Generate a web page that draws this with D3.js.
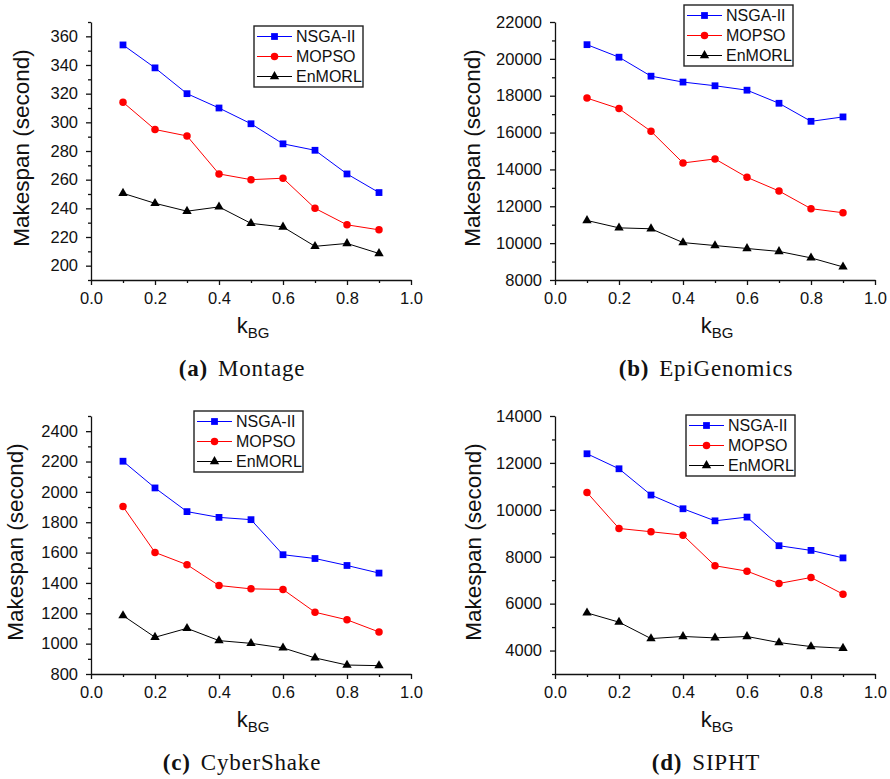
<!DOCTYPE html>
<html lang="en">
<head>
    <meta charset="UTF-8">
    <title>Makespan vs kBG</title>
    <style>
        body {
            margin: 0;
            padding: 0;
            background: #fff;
        }
        svg text {
            font-family: 'Liberation Sans', Arial, sans-serif;
            fill: #111;
        }
        .axis path, .axis line {
            stroke: #111;
            stroke-width: 1.3px;
        }
        .axis text {
            font-size: 16.5px;
        }
        text.caption {
            font-family: 'Liberation Serif', 'Times New Roman', serif;
        }
    </style>
</head>
<body>
    <div id="chart"></div>

    <script src="https://d3js.org/d3.v7.min.js"></script>
    <script>
        // x values and labels
        const kBG = [0.1, 0.2, 0.3, 0.4, 0.5, 0.6, 0.7, 0.8, 0.9];
        const xTicks = [0, 0.2, 0.4, 0.6, 0.8, 1.0];
        const xMinorTicks = [0.1, 0.3, 0.5, 0.7, 0.9];
        const seriesNames = ['NSGA-II', 'MOPSO', 'EnMORL'];

        // (a) Montage
        const montageNSGA = [354, 338, 320, 310, 299, 285, 280.5, 264, 251];
        const montageMOPSO = [314, 295, 290.5, 264, 260, 261, 240, 228.5, 225];
        const montageEnMORL = [250.5, 243.5, 238, 241, 229.5, 227, 213.5, 215.5, 208.5];
        const montageYTicks = [200, 220, 240, 260, 280, 300, 320, 340, 360];

        // (b) EpiGenomics
        const epiNSGA = [20770, 20090, 19060, 18740, 18540, 18300, 17590, 16610, 16850];
        const epiMOPSO = [17870, 17300, 16070, 14350, 14570, 13570, 12830, 11870, 11650];
        const epiEnMORL = [11230, 10830, 10780, 10030, 9870, 9710, 9550, 9200, 8710];
        const epiYTicks = [8000, 10000, 12000, 14000, 16000, 18000, 20000, 22000];

        // (c) CyberShake
        const cyberNSGA = [2202, 2026, 1870, 1832, 1817, 1586, 1561, 1515, 1465];
        const cyberMOPSO = [1903, 1601, 1520, 1383, 1361, 1357, 1207, 1157, 1077];
        const cyberEnMORL = [1185, 1042, 1101, 1020, 1002, 972, 906, 859, 855];
        const cyberYTicks = [800, 1000, 1200, 1400, 1600, 1800, 2000, 2200, 2400];

        // (d) SIPHT
        const siphtNSGA = [12390, 11750, 10630, 10045, 9530, 9690, 8470, 8270, 7950];
        const siphtMOPSO = [10740, 9205, 9065, 8920, 7615, 7385, 6860, 7115, 6405];
        const siphtEnMORL = [5605, 5210, 4510, 4600, 4540, 4600, 4340, 4170, 4100];
        const siphtYTicks = [4000, 6000, 8000, 10000, 12000, 14000];

        const panels = [
            { letter: '(a)', name: 'Montage', series: [montageNSGA, montageMOPSO, montageEnMORL],
              yDomain: [190, 370], yTicks: montageYTicks, minorStep: 10,
              left: 91, top: 22, legend: [254, 26], titleX: 21 },
            { letter: '(b)', name: 'EpiGenomics', series: [epiNSGA, epiMOPSO, epiEnMORL],
              yDomain: [8000, 22000], yTicks: epiYTicks, minorStep: 1000,
              left: 555, top: 22, legend: [684, 5], titleX: 472 },
            { letter: '(c)', name: 'CyberShake', series: [cyberNSGA, cyberMOPSO, cyberEnMORL],
              yDomain: [800, 2500], yTicks: cyberYTicks, minorStep: 100,
              left: 91, top: 416, legend: [194, 411], titleX: 15 },
            { letter: '(d)', name: 'SIPHT', series: [siphtNSGA, siphtMOPSO, siphtEnMORL],
              yDomain: [3000, 14000], yTicks: siphtYTicks, minorStep: 1000,
              left: 555, top: 416, legend: [686, 415], titleX: 473 }
        ];

        const colors = ['#0000ff', '#ff0000', '#000000'];
        const symbols = [
            d3.symbol().type(d3.symbolSquare).size(46),
            d3.symbol().type(d3.symbolCircle).size(44),
            d3.symbol().type(d3.symbolTriangle).size(38)
        ];

        const plotW = 320, plotH = 258;

        const svg = d3.select('#chart')
            .append('svg')
            .attr('width', 890)
            .attr('height', 779);

        panels.forEach(p => {
            const x = d3.scaleLinear().domain([0, 1]).range([p.left, p.left + plotW]);
            const y = d3.scaleLinear().domain(p.yDomain).range([p.top + plotH, p.top]);
            const g = svg.append('g');

            // minor ticks
            const yMinor = d3.range(p.yDomain[0], p.yDomain[1] + 1, p.minorStep)
                .filter(v => !p.yTicks.includes(v));
            g.append('g')
                .attr('class', 'axis')
                .attr('transform', `translate(${p.left},0)`)
                .call(d3.axisLeft(y).tickValues(yMinor).tickSize(3).tickFormat(''))
                .call(s => s.select('.domain').remove());
            g.append('g')
                .attr('class', 'axis')
                .attr('transform', `translate(0,${p.top + plotH})`)
                .call(d3.axisBottom(x).tickValues(xMinorTicks).tickSize(3).tickFormat(''))
                .call(s => s.select('.domain').remove());

            // major axes
            g.append('g')
                .attr('class', 'axis')
                .attr('transform', `translate(${p.left},0)`)
                .call(d3.axisLeft(y).tickValues(p.yTicks).tickSize(5).tickSizeOuter(0).tickPadding(8).tickFormat(d3.format('d')));
            g.append('g')
                .attr('class', 'axis')
                .attr('transform', `translate(0,${p.top + plotH})`)
                .call(d3.axisBottom(x).tickValues(xTicks).tickSize(5).tickSizeOuter(0).tickPadding(7).tickFormat(d3.format('.1f')));

            // series lines and markers
            p.series.forEach((vals, i) => {
                const pts = kBG.map((k, j) => [k, vals[j]]);
                g.append('path')
                    .datum(pts)
                    .attr('fill', 'none')
                    .attr('stroke', colors[i])
                    .attr('stroke-width', 1)
                    .attr('d', d3.line().x(d => x(d[0])).y(d => y(d[1])));
                g.selectAll(null)
                    .data(pts)
                    .enter()
                    .append('path')
                    .attr('d', symbols[i])
                    .attr('fill', colors[i])
                    .attr('transform', d => `translate(${x(d[0])},${y(d[1])})`);
            });

            // y title
            g.append('text')
                .attr('transform', `translate(${p.titleX},${p.top + 126}) rotate(-90)`)
                .attr('text-anchor', 'middle')
                .attr('dominant-baseline', 'central')
                .style('font-size', '22.5px')
                .text('Makespan (second)');

            // x title k_BG
            const xt = g.append('text')
                .attr('x', p.left + plotW / 2 + 2)
                .attr('y', p.top + plotH + 53)
                .attr('text-anchor', 'middle')
                .style('font-size', '22px');
            xt.append('tspan').text('k');
            xt.append('tspan').attr('dy', 5).style('font-size', '15px').text('BG');

            // caption
            const cap = g.append('text')
                .attr('class', 'caption')
                .attr('x', p.left + 151)
                .attr('y', p.top + plotH + 96)
                .attr('text-anchor', 'middle')
                .style('font-size', '23px')
                .style('letter-spacing', '0.8px');
            cap.append('tspan').style('font-weight', 'bold').text(p.letter);
            cap.append('tspan').attr('dx', 10).text(p.name);

            // legend
            const lg = g.append('g').attr('transform', `translate(${p.legend[0]},${p.legend[1]})`);
            lg.append('rect')
                .attr('width', 109)
                .attr('height', 61)
                .attr('fill', '#fff')
                .attr('stroke', '#222')
                .attr('stroke-width', 1.4);
            seriesNames.forEach((name, i) => {
                const ry = 10.5 + i * 20;
                lg.append('line')
                    .attr('x1', 3).attr('x2', 38)
                    .attr('y1', ry).attr('y2', ry)
                    .attr('stroke', colors[i])
                    .attr('stroke-width', 1);
                lg.append('path')
                    .attr('d', symbols[i])
                    .attr('fill', colors[i])
                    .attr('transform', `translate(20.5,${ry})`);
                lg.append('text')
                    .attr('x', 42)
                    .attr('y', ry)
                    .attr('dominant-baseline', 'central')
                    .style('font-size', '16px')
                    .text(name);
            });
        });
    </script>
</body>
</html>
